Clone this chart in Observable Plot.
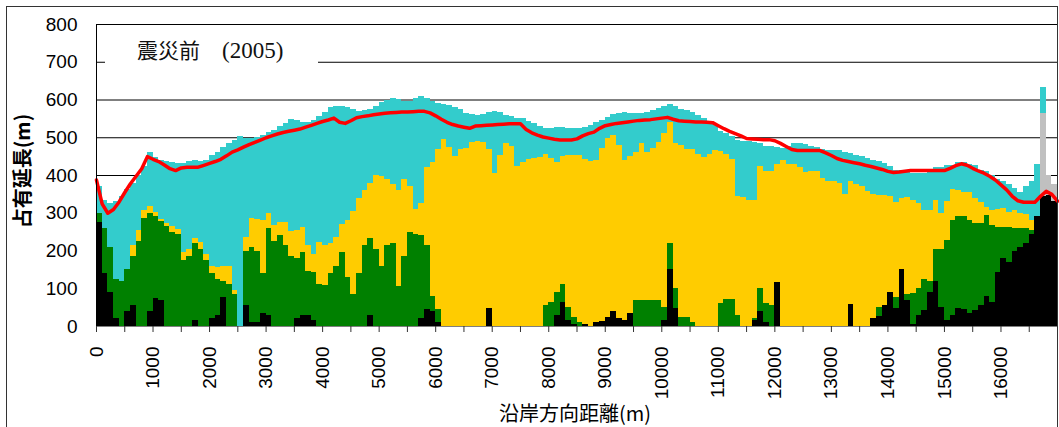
<!DOCTYPE html>
<html>
<head>
<meta charset="utf-8">
<script src="https://cdn.jsdelivr.net/npm/d3@7"></script>
<script src="https://cdn.jsdelivr.net/npm/@observablehq/plot@0.6"></script>
<style>
  html, body { margin: 0; padding: 0; background: #fff; }
  #wrap { position: relative; width: 1059px; height: 427px; overflow: hidden; }
  #frame { position: absolute; left: 6px; top: 6px; width: 1052px; height: 440px; border: 1px solid #333; box-sizing: border-box; pointer-events: none; }
  #title { position: absolute; left: 105px; top: 36px; width: 213px; height: 32px; background: #fff; }
  #title span { position: absolute; top: 2px; font-family: "Liberation Serif", "Noto Sans CJK JP", serif; line-height: 26px; color: #111; white-space: pre; }
  #t1 { left: 32px; font-size: 21px; }
  #t2 { left: 117px; font-size: 23px; }
  #ylab { position: absolute; left: 22px; top: 171px; transform: translate(-50%, -50%) rotate(-90deg); font-family: "Noto Sans CJK JP", sans-serif; font-weight: bold; font-size: 20px; line-height: 1; white-space: nowrap; color: #000; }
  #xlab { position: absolute; left: 575px; top: 413px; transform: translate(-50%, -50%); font-family: "Noto Sans CJK JP", sans-serif; font-size: 20px; line-height: 1; white-space: nowrap; color: #000; }
</style>
</head>
<body>
<div id="wrap">
  <div id="chart"></div>
  <div id="title"><span id="t1">震災前</span><span id="t2">(2005)</span></div>
  <div id="ylab">占有延長(m)</div>
  <div id="xlab">沿岸方向距離(m)</div>
  <div id="frame"></div>
</div>
<script>
// bar width along the coast (m); bar i spans i*step .. (i+1)*step
const step = 100;

// cumulative tops of each stacked layer (m), one value per 100 m bar, 0–17000 m
const blackTop = [
  275,140,90,20,0,40,55,0,0,40, 75,70,0,0,0,0,0,16,0,0,
  20,30,76,0,0,0,55,11,11,34, 30,0,0,0,0,20,28,30,16,0,
  0,0,0,0,0,0,0,0,28,0, 0,0,0,0,0,0,0,20,45,40,
  10,0,0,0,0,0,0,0,0,47, 0,0,0,0,0,0,0,0,0,0,
  0,30,64,16,5,0,5,0,10,13, 25,40,20,15,35,0,0,0,0,0,
  16,150,47,0,0,0,0,0,0,0, 0,0,0,0,0,0,15,40,10,0,
  117,0,0,0,0,0,0,0,0,0, 0,0,0,58,0,0,0,20,26,55,
  90,47,150,70,5,29,42,90,120,50, 16,30,47,45,35,42,56,80,64,144,
  180,170,200,210,219,245,291,345,346,330
];
const greenTop = [
  300,260,210,124,120,150,185,225,285,299, 292,278,264,250,245,175,185,220,205,176,
  140,125,120,110,85,0,200,210,200,140, 260,224,240,215,185,180,195,145,142,110,
  108,140,160,195,130,84,140,215,232,205, 160,215,220,105,185,248,245,240,215,80,
  45,0,0,0,0,0,0,0,0,47, 0,0,0,0,0,0,0,0,0,56,
  64,90,110,50,25,10,5,0,10,13, 25,40,20,15,35,69,69,69,69,69,
  50,220,100,25,25,10,0,0,0,0, 60,71,71,30,0,0,20,100,60,55,
  117,0,0,0,0,0,0,0,0,0, 0,0,0,58,0,0,0,20,50,55,
  90,78,150,85,87,100,125,120,205,205, 228,281,292,292,280,272,272,295,268,263,
  263,262,260,259,259,255,291,345,346,330
];
const yellowTop = [
  300,260,210,124,120,150,215,255,307,318, 302,284,272,265,256,195,205,232,222,192,
  158,155,160,160,95,0,235,285,283,282, 300,268,275,275,252,255,262,215,190,222,
  214,219,235,270,280,305,340,360,378,400, 398,390,375,361,390,370,310,325,420,435,
  470,495,475,450,468,472,488,490,487,468, 405,452,486,478,425,435,442,445,448,456,
  446,435,450,452,454,452,443,436,440,472, 499,506,480,440,450,462,485,460,472,488,
  510,540,485,480,470,468,455,448,455,465, 463,455,443,345,342,335,335,425,410,411,
  430,440,428,428,420,407,411,411,392,383, 383,378,350,385,375,370,357,350,348,348,
  345,329,338,342,335,325,307,307,335,300, 330,364,360,355,355,338,329,315,307,310,
  312,303,306,300,298,280,291,345,346,330
];
const cyanTop = [
  370,335,325,332,345,362,380,400,425,460, 447,440,437,435,432,432,436,441,438,441,
  452,462,475,485,492,503,499,499,500,507, 513,520,530,538,548,545,540,540,546,556,
  568,580,582,582,580,575,570,572,575,582, 594,598,604,602,596,595,605,608,604,596,
  591,588,585,580,575,565,562,560,562,567, 570,567,560,555,551,550,543,537,530,525,
  525,527,527,525,525,525,527,532,540,546, 553,562,563,566,564,564,564,566,573,577,
  584,588,583,576,572,567,558,550,543,535, 516,510,503,494,490,489,487,485,478,476,
  474,472,477,485,486,483,478,474,470,467, 467,465,460,457,454,450,446,440,437,433,
  425,413,413,410,404,404,404,408,420,420, 427,427,435,435,430,427,413,410,400,390,
  385,376,365,356,371,385,430,632,400,375
];
// grey band at the river mouth (bar start distance, top)
const greyDist = [16700, 16800, 16900];
const greyTop = [565, 400, 375];

// red line: total, sampled every 100 m from 0 to 17000 m
const redLine = [
  388,325,300,310,330,355,378,398,418,450, 443,437,428,418,413,420,422,422,422,427,
  432,437,443,452,462,468,475,482,488,494, 500,505,510,514,517,520,523,528,533,538,
  543,547,552,541,538,545,553,556,558,561, 563,565,566,567,568,568,569,570,570,566,
  558,549,541,535,531,528,525,531,532,533, 534,535,536,537,537,537,522,513,507,502,
  499,496,494,494,494,497,505,511,515,525, 532,535,538,540,542,544,546,547,548,550,
  552,554,549,545,544,543,542,542,541,540, 532,524,517,511,505,498,497,496,495,495,
  492,485,477,469,466,466,466,466,466,460, 453,445,440,437,434,431,427,424,420,416,
  411,408,409,411,413,413,413,413,413,413, 413,419,426,431,427,419,412,406,398,388,
  375,362,345,333,329,329,329,345,358,350, 332
];

const xLabelTicks = [0,1000,2000,3000,4000,5000,6000,7000,8000,9000,10000,11000,12000,13000,14000,15000,16000];
const xMinorTicks = [500,1500,2500,3500,4500,5500,6500,7500,8500,9500,10500,11500,12500,13500,14500,15500,16500,17000];
const yTicks = [0,100,200,300,400,500,600,700,800];

const layers = ["L1", "L2", "L3", "L4", "L5"];
const layerColors = ["#000000", "#008000", "#FFCC00", "#C0C0C0", "#33CCCC"];

const rows = [];
blackTop.forEach((b, i) => {
  const x1 = i * step, x2 = x1 + step;
  const g = greenTop[i], y = yellowTop[i], c = cyanTop[i];
  const gi = greyDist.indexOf(x1);
  const gt = gi >= 0 ? greyTop[gi] : y;
  rows.push({x1, x2, y1: 0, y2: b, layer: "L1"});
  rows.push({x1, x2, y1: b, y2: g, layer: "L2"});
  rows.push({x1, x2, y1: g, y2: y, layer: "L3"});
  rows.push({x1, x2, y1: y, y2: gt, layer: "L4"});
  rows.push({x1, x2, y1: gt, y2: Math.max(c, gt), layer: "L5"});
});
const redRows = redLine.map((v, i) => ({x: i * step, y: v}));

const chart = Plot.plot({
  width: 1059,
  height: 427,
  marginLeft: 96,
  marginRight: 2,
  marginTop: 24,
  marginBottom: 101,
  x: {domain: [0, 17000]},
  y: {domain: [0, 800]},
  color: {type: "ordinal", domain: layers, range: layerColors},
  style: {background: "transparent", fontFamily: "'Liberation Sans', Arial, sans-serif", fontSize: "19px", color: "#000"},
  marks: [
    Plot.ruleY(yTicks.filter(d => d > 0), {stroke: "#000", strokeWidth: 1}),
    Plot.rect(rows, {x1: "x1", x2: "x2", y1: "y1", y2: "y2", fill: "layer", inset: 0, shapeRendering: "crispEdges"}),
    Plot.line(redRows, {x: "x", y: "y", stroke: "#ff0000", strokeWidth: 3.5, strokeLinejoin: "round", curve: "linear"}),
    Plot.ruleX([0], {stroke: "#000", strokeWidth: 1}),
    Plot.ruleY([0], {stroke: "#7f7f7f", strokeWidth: 1}),
    Plot.axisX({ticks: xMinorTicks, tickFormat: () => "", tickSize: 6, label: null, stroke: "#333"}),
    Plot.axisX({ticks: xLabelTicks, tickFormat: d => String(d), tickSize: 6, tickPadding: 14, tickRotate: -90, label: null, fontSize: 19, stroke: "#333"}),
    Plot.axisY({ticks: yTicks, tickFormat: d => String(d), tickSize: 0, tickPadding: 19, label: null, fontSize: 19})
  ]
});
document.getElementById("chart").appendChild(chart);
</script>
</body>
</html>
